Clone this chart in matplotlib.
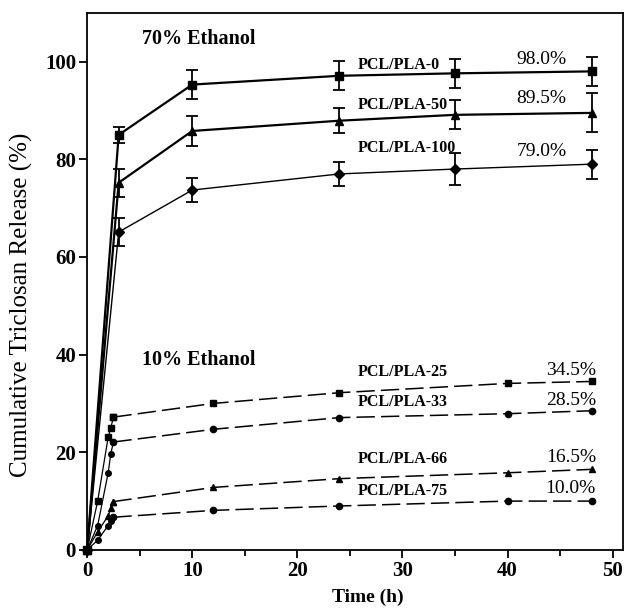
import matplotlib
matplotlib.use("Agg")
import matplotlib.pyplot as plt
from matplotlib.ticker import MultipleLocator

plt.rcParams['font.family'] = ['Liberation Serif', 'DejaVu Serif']

# 70% ethanol release (mean, error)
t70 = [0, 3, 10, 24, 35, 48]
pla0 = [0, 85.0, 95.3, 97.1, 97.6, 98.0]
pla0_err = [0, 1.6, 3.0, 3.0, 3.0, 3.0]
pla50 = [0, 75.2, 85.8, 87.9, 89.1, 89.5]
pla50_err = [0, 2.9, 3.0, 2.5, 3.0, 4.0]
pla100 = [0, 65.1, 73.7, 77.0, 78.0, 79.0]
pla100_err = [0, 2.8, 2.5, 2.5, 3.2, 3.0]

# 10% ethanol release
t10 = [0, 1, 2, 2.25, 2.5, 12, 24, 40, 48]
pla25 = [0, 10.0, 23.1, 25.0, 27.2, 30.0, 32.2, 34.1, 34.5]
pla33 = [0, 5.0, 15.8, 19.7, 22.1, 24.7, 27.1, 27.9, 28.5]
pla66 = [0, 3.7, 7.0, 8.5, 9.9, 12.8, 14.6, 15.8, 16.5]
pla75 = [0, 2.0, 5.0, 6.0, 6.7, 8.1, 9.0, 10.0, 10.0]

fig = plt.figure(figsize=(6.27, 6.09), dpi=100)
ax = fig.add_axes([0.139, 0.097, 0.855, 0.882])

# 70% curves
for y, err, mk, lw in [(pla0, pla0_err, 's', 1.6), (pla50, pla50_err, '^', 1.6),
                       (pla100, pla100_err, 'D', 1.0)]:
    ax.errorbar(t70, y, yerr=err, color='black', marker=mk, markersize=6 if mk != 'D' else 5,
                lw=lw, elinewidth=1.3, capsize=4.5, capthick=1.3, clip_on=False, zorder=3)

# 10% curves: solid early part, dashed afterwards
for y, mk in [(pla25, 's'), (pla33, 'o'), (pla66, '^'), (pla75, 'o')]:
    ax.plot(t10[:5], y[:5], color='black', lw=0.9, marker=mk, markersize=4, clip_on=False)
    ax.plot(t10[4:], y[4:], color='black', lw=1.1, dashes=(12, 4), marker=mk, markersize=4.5)

lab = dict(fontsize=11.5, fontweight='bold', ha='left', va='center')
ax.text(25.7, 99.4, 'PCL/PLA-0', **lab)
ax.text(25.7, 91.2, 'PCL/PLA-50', **lab)
ax.text(25.7, 82.3, 'PCL/PLA-100', **lab)
ax.text(25.7, 36.4, 'PCL/PLA-25', **lab)
ax.text(25.7, 30.3, 'PCL/PLA-33', **lab)
ax.text(25.7, 18.6, 'PCL/PLA-66', **lab)
ax.text(25.7, 12.0, 'PCL/PLA-75', **lab)

pct = dict(fontsize=14, ha='right', va='center')
ax.text(45.6, 100.4, '98.0%', **pct)
ax.text(45.6, 92.4, '89.5%', **pct)
ax.text(45.6, 81.5, '79.0%', **pct)
ax.text(48.4, 36.8, '34.5%', **pct)
ax.text(48.4, 30.7, '28.5%', **pct)
ax.text(48.4, 19.0, '16.5%', **pct)
ax.text(48.4, 12.6, '10.0%', **pct)

ax.text(5.2, 104.7, '70% Ethanol', fontsize=14.5, fontweight='bold', va='center')
ax.text(5.2, 38.9, '10% Ethanol', fontsize=14.5, fontweight='bold', va='center')

ax.set_xlim(0, 51)
ax.set_ylim(0, 110)
ax.xaxis.set_major_locator(MultipleLocator(10))
ax.xaxis.set_minor_locator(MultipleLocator(5))
ax.yaxis.set_major_locator(MultipleLocator(20))
ax.tick_params(direction='out', width=1.3, length=6, labelsize=15, pad=2)
ax.tick_params(which='minor', direction='out', width=1.3, length=4)
for lbl in ax.get_xticklabels() + ax.get_yticklabels():
    lbl.set_fontweight('bold')
for s in ax.spines.values():
    s.set_linewidth(1.3)

ax.set_xlabel('Time (h)', fontsize=14, fontweight='bold', va='center')
ax.xaxis.set_label_coords(0.524, -0.088)
ax.set_ylabel('Cumulative Triclosan Release (%)', fontsize=18, va='center')
ax.yaxis.set_label_coords(-0.123, 0.456)

fig.savefig('out.png', dpi=100)
